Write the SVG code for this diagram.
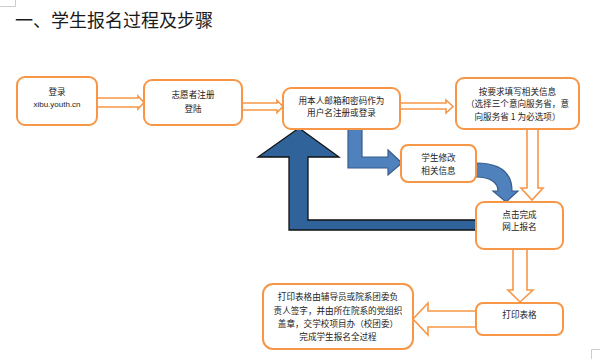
<svg xmlns="http://www.w3.org/2000/svg" width="600" height="359" viewBox="0 0 600 359">
<style>
.box{fill:#fff;stroke:#F79646;stroke-width:2}
.harrow{fill:#fff;stroke:#F79646;stroke-width:1.6;stroke-linejoin:miter}
.t{font-family:"Noto Sans CJK SC","Liberation Sans",sans-serif;font-size:8.6px;fill:#222;text-anchor:middle}
.lat{font-family:"Liberation Sans","Noto Sans CJK SC",sans-serif;font-size:8px;fill:#222;text-anchor:middle}
.title{font-family:"Noto Sans CJK SC","Liberation Sans",sans-serif;font-size:18px;fill:#1a1a1a}
.lb{fill:#4F81BD;stroke:#385D8A;stroke-width:1.2}
.db{fill:#2F6399;stroke:#111;stroke-width:1.3;stroke-linejoin:miter}
.mark{stroke:#ccc;stroke-width:1;fill:none}
</style>
<path class="mark" d="M15.5,0 V6.5 H0"/>
<path class="mark" d="M600,349.5 H591.5 V359"/>
<text class="title" x="15" y="27">一、学生报名过程及步骤</text>
<g id="connectors">
<polygon class="harrow" points="97,98 138,98 138,96 144,102.5 138,109 138,107 97,107"/>
<polygon class="harrow" points="242,103 277,103 277,100.5 283,106.5 277,112.5 277,110 242,110"/>
<polygon class="harrow" points="400,103 446,103 446,100 453,106.5 446,113 446,109 400,109"/>
<polygon class="harrow" points="527,129 538,129 538,188 543,188 532,200 521,188 527,188"/>
<polygon class="harrow" points="513,249 527,249 527,290 533,290 520,302 508,290 513,290"/>
<polygon class="harrow" points="476,311 428,311 428,303 413,319 428,335 428,327 476,327"/>
<polygon class="lb" points="348,129 362,129 362,157 388,157 388,150 402,163 388,175 388,168 348,168"/>
<path class="lb" d="M476,163 C500,163 512,172 512,191 L518,191 L506,202 L493,191 L498,191 C498,183 491,177 476,177 Z"/>
<polygon class="db" points="476,230 289,230 289,157 258,157 299,128 339,157 308,157 308,220 476,220"/>
</g>
<g id="n1"><rect class="box" x="17" y="77" width="80" height="48" rx="8"/><text class="t" x="57" y="95">登录</text><text class="lat" x="57" y="107">xibu.youth.cn</text></g>
<g id="n2"><rect class="box" x="144" y="80" width="98" height="45" rx="8"/><text class="t" x="193" y="98">志愿者注册</text><text class="t" x="193" y="112">登陆</text></g>
<g id="n3"><rect class="box" x="283" y="88" width="117" height="41" rx="8"/><text class="t" x="341.5" y="104">用本人邮箱和密码作为</text><text class="t" x="341.5" y="116">用户名注册或登录</text></g>
<g id="n4"><rect class="box" x="456" y="78" width="123" height="51" rx="8"/><text class="t" x="517.5" y="95">按要求填写相关信息</text><text class="t" x="517.5" y="107">（选择三个意向服务省，意</text><text class="t" x="517.5" y="120">向服务省 1 为必选项）</text></g>
<g id="n5"><rect class="box" x="401" y="145" width="75" height="37" rx="7"/><text class="t" x="438.5" y="161">学生修改</text><text class="t" x="438.5" y="174">相关信息</text></g>
<g id="n6"><rect class="box" x="476" y="202" width="87" height="47" rx="8"/><text class="t" x="519.5" y="218">点击完成</text><text class="t" x="519.5" y="230">网上报名</text></g>
<g id="n7"><rect class="box" x="476" y="303" width="87" height="32" rx="7"/><text class="t" x="519.5" y="318">打印表格</text></g>
<g id="n8"><rect class="box" x="263" y="284" width="150" height="65" rx="10"/><text class="t" x="338" y="300">打印表格由辅导员或院系团委负</text><text class="t" x="338" y="314">责人签字，并由所在院系的党组织</text><text class="t" x="338" y="327">盖章，交学校项目办（校团委）</text><text class="t" x="338" y="340">完成学生报名全过程</text></g>
</svg>
